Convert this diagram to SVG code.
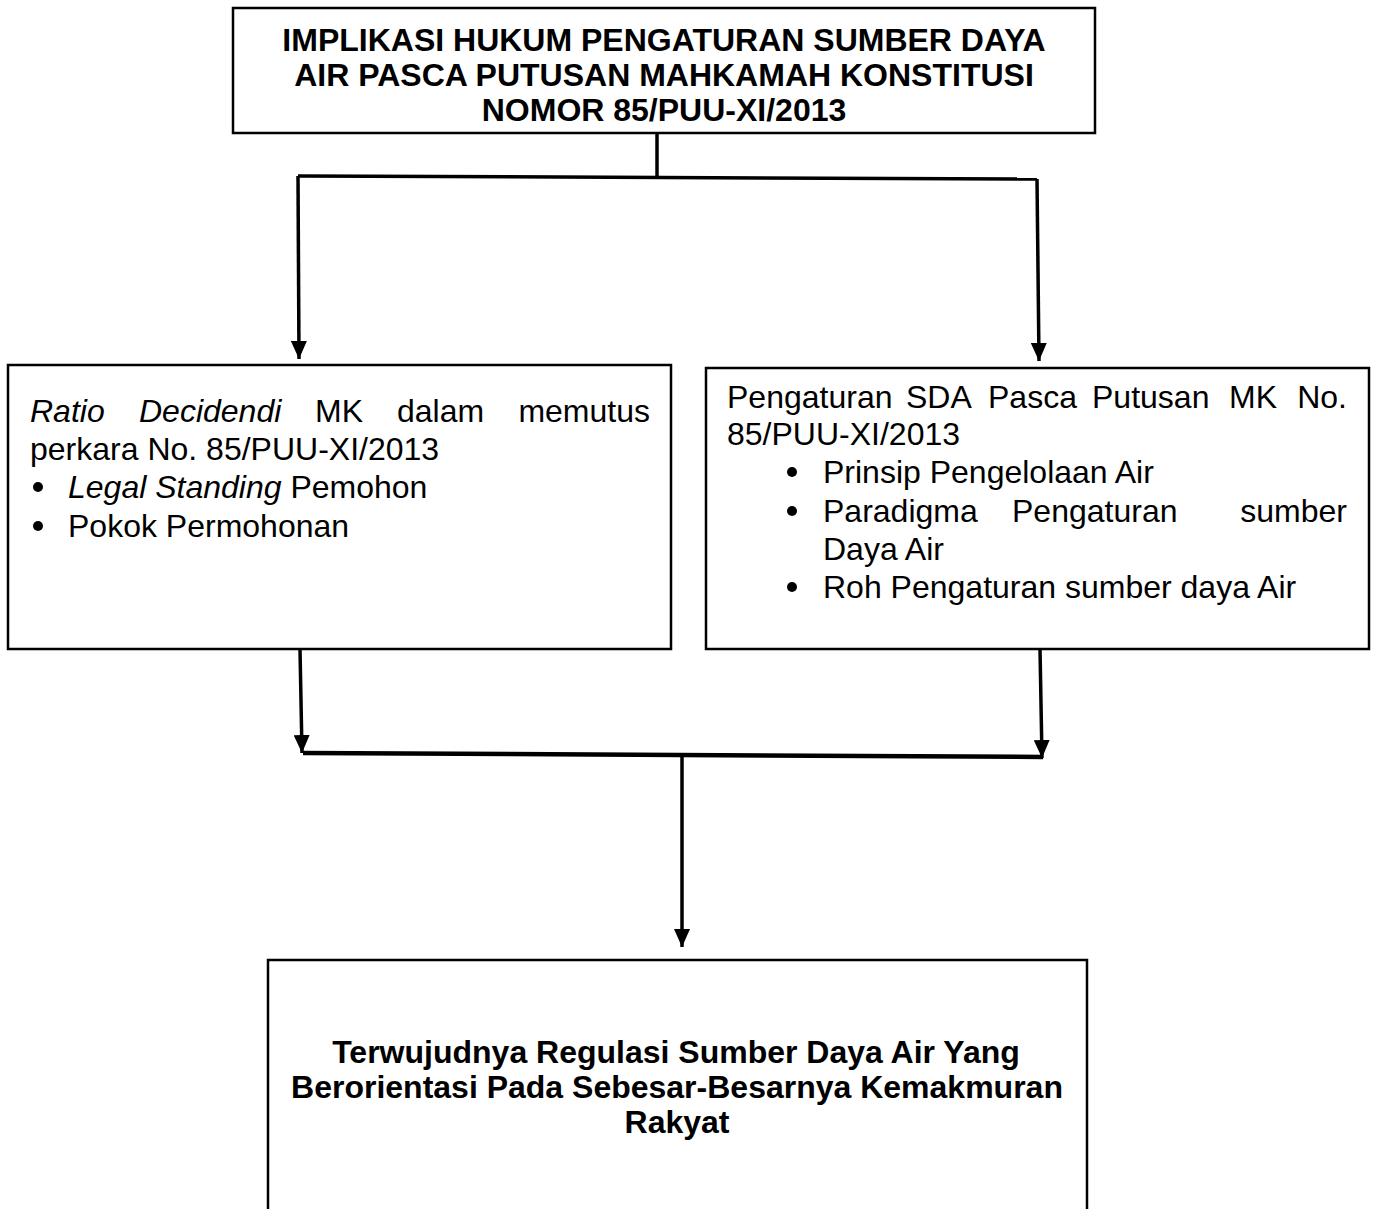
<svg xmlns="http://www.w3.org/2000/svg" width="1376" height="1209" viewBox="0 0 1376 1209">
<style>
.box{fill:#fff;stroke:#000;stroke-width:2.5}
.t{font-family:"Liberation Sans",Arial,sans-serif;font-size:32px;fill:#000}
.b{font-family:"Liberation Sans",Arial,sans-serif;font-size:32px;font-weight:bold;fill:#000}
.c{stroke:#000;stroke-width:3.5;fill:none}
.i{font-style:italic}
.dot{fill:#000}
</style>
<defs>
<marker id="ah" viewBox="0 0 18 16" refX="18" refY="8" markerWidth="18" markerHeight="16" markerUnits="userSpaceOnUse" orient="auto">
<path d="M0,0 L18,8 L0,16 z" fill="#000"/>
</marker>
</defs>
<rect width="1376" height="1209" fill="#fff"/>
<g id="connectors">
<line class="c" x1="657" y1="133" x2="657" y2="178"/>
<line class="c" x1="298" y1="176" x2="1037" y2="179"/>
<line class="c" x1="298" y1="176" x2="299" y2="359" marker-end="url(#ah)"/>
<line class="c" x1="1037" y1="179" x2="1039" y2="361" marker-end="url(#ah)"/>
<line class="c" x1="300" y1="649" x2="302" y2="753" marker-end="url(#ah)"/>
<line class="c" x1="1040" y1="649" x2="1042" y2="758" marker-end="url(#ah)"/>
<line class="c" x1="303" y1="753" x2="1043" y2="757" style="stroke-width:4.5"/>
<line class="c" x1="682" y1="755" x2="682" y2="947" marker-end="url(#ah)"/>
</g>
<g id="top">
<rect class="box" x="233" y="8" width="862" height="125"/>
<text class="b" x="664" y="51" text-anchor="middle">IMPLIKASI HUKUM PENGATURAN SUMBER DAYA</text>
<text class="b" x="664" y="86" text-anchor="middle">AIR PASCA PUTUSAN MAHKAMAH KONSTITUSI</text>
<text class="b" x="664" y="121" text-anchor="middle">NOMOR 85/PUU-XI/2013</text>
</g>
<g id="left">
<rect class="box" x="8" y="365" width="663" height="284"/>
<text class="t i" x="30" y="422">Ratio</text>
<text class="t i" x="139" y="422">Decidendi</text>
<text class="t" x="315" y="422">MK</text>
<text class="t" x="397" y="422">dalam</text>
<text class="t" x="650" y="422" text-anchor="end">memutus</text>
<text class="t" x="30" y="460">perkara No. 85/PUU-XI/2013</text>
<circle class="dot" cx="38" cy="487" r="5"/>
<text class="t" x="68" y="498"><tspan class="i">Legal Standing</tspan> Pemohon</text>
<circle class="dot" cx="38" cy="526" r="5"/>
<text class="t" x="68" y="537">Pokok Permohonan</text>
</g>
<g id="right">
<rect class="box" x="706" y="368" width="663" height="281"/>
<text class="t" x="727" y="408">Pengaturan</text>
<text class="t" x="906" y="408">SDA</text>
<text class="t" x="988" y="408">Pasca</text>
<text class="t" x="1092" y="408">Putusan</text>
<text class="t" x="1229" y="408">MK</text>
<text class="t" x="1347" y="408" text-anchor="end">No.</text>
<text class="t" x="727" y="445">85/PUU-XI/2013</text>
<circle class="dot" cx="792" cy="472" r="5"/>
<text class="t" x="823" y="483">Prinsip Pengelolaan Air</text>
<circle class="dot" cx="792" cy="511" r="5"/>
<text class="t" x="823" y="522">Paradigma</text>
<text class="t" x="1012" y="522">Pengaturan</text>
<text class="t" x="1347" y="522" text-anchor="end">sumber</text>
<text class="t" x="823" y="560">Daya Air</text>
<circle class="dot" cx="792" cy="587" r="5"/>
<text class="t" x="823" y="598">Roh Pengaturan sumber daya Air</text>
</g>
<g id="bottom">
<path class="box" d="M268,1215 L268,960 L1087,960 L1087,1215"/>
<text class="b" x="676" y="1063" text-anchor="middle">Terwujudnya Regulasi Sumber Daya Air Yang</text>
<text class="b" x="677" y="1098" text-anchor="middle">Berorientasi Pada Sebesar-Besarnya Kemakmuran</text>
<text class="b" x="677" y="1133" text-anchor="middle">Rakyat</text>
</g>
</svg>
